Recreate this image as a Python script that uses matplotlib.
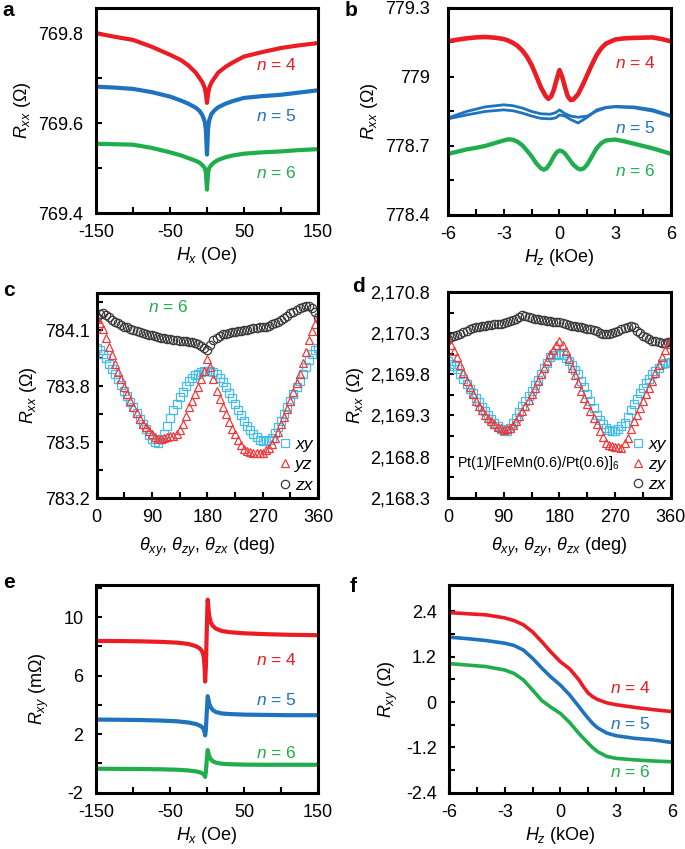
import matplotlib
matplotlib.use("Agg")
import matplotlib.pyplot as plt
from matplotlib.ticker import FixedLocator, FuncFormatter

plt.rcParams['font.family'] = ['Liberation Sans', 'DejaVu Sans']
plt.rcParams['mathtext.fontset'] = 'custom'
plt.rcParams['mathtext.rm'] = 'Liberation Sans'
plt.rcParams['mathtext.it'] = 'Liberation Sans:italic'
plt.rcParams['mathtext.bf'] = 'Liberation Sans:bold'

RED = '#ec1c24'
BLUE = '#1f72be'
GREEN = '#1fae4b'
SQ = '#45bde9'
TRI = '#ee3a3a'
CIR = '#3a3a3a'

# ---------------- panel a ----------------
a_h = [-150, -125, -100, -75, -50, -35, -25, -15, -10, -6, -3, -1.5, 0, 1.5, 3, 6, 10, 15, 25, 35, 50, 75, 100, 125, 150]
a_n4 = [769.800, 769.792, 769.785, 769.770, 769.752, 769.740, 769.728, 769.712, 769.700, 769.690, 769.678, 769.665, 769.645,
        769.665, 769.678, 769.690, 769.700, 769.712, 769.725, 769.735, 769.748, 769.758, 769.767, 769.773, 769.778]
a_n5 = [769.681, 769.679, 769.676, 769.669, 769.659, 769.650, 769.643, 769.634, 769.627, 769.617, 769.603, 769.585, 769.530,
        769.588, 769.606, 769.620, 769.628, 769.635, 769.643, 769.649, 769.656, 769.660, 769.663, 769.668, 769.673]
a_n6 = [769.554, 769.553, 769.552, 769.545, 769.535, 769.528, 769.522, 769.516, 769.512, 769.506, 769.500, 769.490, 769.452,
        769.490, 769.500, 769.507, 769.513, 769.518, 769.524, 769.528, 769.532, 769.535, 769.537, 769.540, 769.542]

# ---------------- panel b ----------------
b_h4 = [-6, -5.5, -5, -4.5, -4, -3.5, -3, -2.75, -2.5, -2.25, -2, -1.75, -1.5, -1.25, -1, -0.75, -0.6, -0.45, -0.3,
        -0.15, 0, 0.15, 0.3, 0.45, 0.6, 0.75, 1, 1.25, 1.5, 1.75, 2, 2.25, 2.5, 3, 3.5, 4, 5, 5.5, 6]
b_n4 = [779.155, 779.162, 779.168, 779.172, 779.174, 779.171, 779.165, 779.158, 779.148, 779.135, 779.115, 779.088,
        779.052, 779.005, 778.955, 778.918, 778.905, 778.915, 778.945, 778.990, 779.030, 779.000, 778.955, 778.915,
        778.900, 778.902, 778.925, 778.965, 779.010, 779.055, 779.095, 779.125, 779.145, 779.163, 779.168, 779.170,
        779.172, 779.165, 779.155]
b_h6 = [-6, -5.5, -5, -4.5, -4, -3.5, -3, -2.75, -2.5, -2.25, -2, -1.75, -1.5, -1.25, -1, -0.85, -0.7, -0.5, -0.3,
        -0.15, 0, 0.15, 0.3, 0.5, 0.75, 1, 1.15, 1.3, 1.5, 1.75, 2, 2.25, 2.5, 3, 3.5, 4, 4.5, 5, 5.5, 6]
b_n6 = [778.666, 778.675, 778.685, 778.692, 778.700, 778.712, 778.724, 778.729, 778.727, 778.718, 778.703, 778.680,
        778.655, 778.625, 778.603, 778.597, 778.602, 778.625, 778.655, 778.673, 778.680, 778.677, 778.667, 778.645,
        778.618, 778.601, 778.598, 778.602, 778.620, 778.655, 778.690, 778.712, 778.724, 778.728, 778.720, 778.710,
        778.700, 778.690, 778.678, 778.666]
b_h5 = [-6, -5, -4, -3, -2.5, -2, -1.5, -1, -0.5, -0.2, 0, 0.3, 0.6, 1, 1.5, 2, 2.5, 3, 4, 5, 6]
b_n5_up = [778.822, 778.850, 778.870, 778.879, 778.875, 778.865, 778.850, 778.840, 778.838, 778.845, 778.857,
           778.840, 778.830, 778.825, 778.830, 778.852, 778.866, 778.870, 778.866, 778.852, 778.828]
b_n5_dn = [778.818, 778.835, 778.850, 778.857, 778.853, 778.843, 778.830, 778.820, 778.818, 778.822, 778.835,
           778.830, 778.815, 778.800, 778.825, 778.857, 778.868, 778.872, 778.870, 778.858, 778.832]

# ---------------- panel c ----------------
theta = list(range(0, 361, 5))
c_xy = [784.006, 783.995, 783.974, 783.950, 783.920, 783.893, 783.866, 783.836, 783.806, 783.776, 783.746, 783.716,
        783.686, 783.656, 783.626, 783.596, 783.568, 783.540, 783.515, 783.503, 783.497, 783.515, 783.542, 783.585,
        783.632, 783.670, 783.705, 783.740, 783.770, 783.800, 783.830, 783.845, 783.858, 783.866, 783.875, 783.880,
        783.884, 783.882, 783.875, 783.866, 783.846, 783.820, 783.794, 783.764, 783.734, 783.704, 783.674, 783.644,
        783.614, 783.588, 783.563, 783.542, 783.525, 783.512, 783.506, 783.506, 783.512, 783.524, 783.550, 783.580,
        783.614, 783.650, 783.686, 783.722, 783.758, 783.794, 783.830, 783.866, 783.902, 783.938, 783.970, 783.995,
        784.006]
c_yz = [784.163, 784.140, 784.109, 784.060, 784.010, 783.965, 783.920, 783.878, 783.836, 783.794, 783.758, 783.722,
        783.686, 783.656, 783.626, 783.596, 783.580, 783.560, 783.542, 783.525, 783.515, 783.515, 783.524, 783.528,
        783.533, 783.535, 783.542, 783.565, 783.596, 783.640, 783.686, 783.720, 783.757, 783.794, 783.840, 783.884,
        783.947, 783.902, 783.840, 783.776, 783.730, 783.690, 783.650, 783.610, 783.572, 783.542, 783.510, 783.485,
        783.461, 783.452, 783.446, 783.443, 783.442, 783.442, 783.443, 783.455, 783.470, 783.488, 783.520, 783.556,
        783.596, 783.637, 783.680, 783.722, 783.770, 783.818, 783.866, 783.925, 783.985, 784.046, 784.095, 784.136,
        784.172]
c_zx = [784.172, 784.185, 784.190, 784.180, 784.170, 784.155, 784.145, 784.140, 784.130, 784.120, 784.115, 784.105,
        784.100, 784.095, 784.090, 784.085, 784.080, 784.075, 784.073, 784.070, 784.065, 784.060, 784.058, 784.055,
        784.055, 784.050, 784.048, 784.045, 784.043, 784.040, 784.037, 784.035, 784.030, 784.025, 784.015, 784.005,
        783.996, 784.020, 784.046, 784.060, 784.070, 784.078, 784.082, 784.088, 784.090, 784.093, 784.095, 784.098,
        784.100, 784.102, 784.105, 784.110, 784.112, 784.115, 784.118, 784.120, 784.125, 784.132, 784.140, 784.147,
        784.154, 784.165, 784.178, 784.190, 784.200, 784.210, 784.217, 784.225, 784.230, 784.231, 784.222, 784.200,
        784.172]

# ---------------- panel d ----------------
d_xy = [2169.964, 2169.930, 2169.900, 2169.862, 2169.800, 2169.740, 2169.680, 2169.625, 2169.570, 2169.515, 2169.460,
        2169.405, 2169.352, 2169.305, 2169.255, 2169.210, 2169.170, 2169.135, 2169.107, 2169.115, 2169.148, 2169.205,
        2169.270, 2169.340, 2169.413, 2169.475, 2169.535, 2169.597, 2169.665, 2169.735, 2169.800, 2169.870, 2169.940,
        2170.005, 2170.030, 2170.040, 2170.046, 2170.030, 2170.000, 2169.964, 2169.910, 2169.855, 2169.800, 2169.720,
        2169.640, 2169.556, 2169.475, 2169.390, 2169.310, 2169.250, 2169.195, 2169.148, 2169.125, 2169.110, 2169.107,
        2169.140, 2169.175, 2169.210, 2169.285, 2169.360, 2169.434, 2169.500, 2169.570, 2169.638, 2169.690, 2169.745,
        2169.800, 2169.840, 2169.880, 2169.923, 2169.935, 2169.940, 2169.944]
d_zy = [2170.229, 2170.150, 2170.080, 2170.005, 2169.910, 2169.815, 2169.720, 2169.640, 2169.555, 2169.475, 2169.420,
        2169.365, 2169.310, 2169.270, 2169.230, 2169.190, 2169.165, 2169.145, 2169.128, 2169.130, 2169.145, 2169.185,
        2169.230, 2169.290, 2169.352, 2169.420, 2169.490, 2169.556, 2169.635, 2169.720, 2169.800, 2169.880, 2169.965,
        2170.046, 2170.100, 2170.160, 2170.209, 2170.150, 2170.087, 2169.985, 2169.882, 2169.785, 2169.690, 2169.597,
        2169.515, 2169.435, 2169.352, 2169.270, 2169.190, 2169.107, 2169.035, 2168.965, 2168.940, 2168.924, 2168.915,
        2168.910, 2168.904, 2168.960, 2169.026, 2169.130, 2169.230, 2169.310, 2169.390, 2169.475, 2169.555, 2169.635,
        2169.720, 2169.815, 2169.910, 2170.005, 2170.090, 2170.168, 2170.229]
d_zx = [2170.229, 2170.250, 2170.270, 2170.280, 2170.290, 2170.310, 2170.330, 2170.345, 2170.360, 2170.370, 2170.375,
        2170.385, 2170.390, 2170.395, 2170.400, 2170.405, 2170.410, 2170.415, 2170.420, 2170.430, 2170.445, 2170.460,
        2170.474, 2170.495, 2170.515, 2170.505, 2170.490, 2170.480, 2170.474, 2170.470, 2170.465, 2170.460, 2170.452,
        2170.445, 2170.440, 2170.437, 2170.433, 2170.425, 2170.410, 2170.400, 2170.390, 2170.385, 2170.375, 2170.370,
        2170.365, 2170.355, 2170.350, 2170.340, 2170.320, 2170.300, 2170.290, 2170.290, 2170.295, 2170.300, 2170.310,
        2170.330, 2170.350, 2170.365, 2170.380, 2170.385, 2170.370, 2170.330, 2170.300, 2170.270, 2170.250, 2170.230,
        2170.210, 2170.200, 2170.190, 2170.185, 2170.185, 2170.190, 2170.190]

# ---------------- panel e ----------------
e_h = [-150, -120, -90, -60, -40, -25, -15, -10, -7, -5, -4, -3, -2.5, -1.5, -0.5, 0.5, 1, 2, 3, 5, 8, 12, 20, 30, 50, 80, 110, 150]
e_n4 = [8.38, 8.37, 8.35, 8.31, 8.26, 8.17, 8.02, 7.88, 7.70, 7.45, 7.15, 6.40, 5.60, 6.60, 8.60, 10.50, 11.20, 10.60,
        10.10, 9.65, 9.40, 9.22, 9.06, 8.98, 8.90, 8.84, 8.80, 8.77]
e_n5 = [3.00, 2.99, 2.97, 2.93, 2.88, 2.80, 2.70, 2.60, 2.50, 2.38, 2.27, 2.10, 1.92, 2.30, 3.30, 4.20, 4.60, 4.35,
        4.10, 3.85, 3.65, 3.52, 3.42, 3.38, 3.34, 3.32, 3.30, 3.30]
e_n6 = [-0.36, -0.37, -0.38, -0.40, -0.43, -0.48, -0.54, -0.60, -0.66, -0.72, -0.78, -0.85, -0.92, -0.60, 0.10, 0.70,
        0.92, 0.70, 0.50, 0.30, 0.15, 0.06, -0.02, -0.05, -0.08, -0.09, -0.09, -0.09]

# ---------------- panel f ----------------
f_h = [-6, -5, -4, -3, -2.5, -2, -1.5, -1, -0.5, 0, 0.5, 1, 1.25, 1.5, 1.75, 2, 2.5, 3, 4, 5, 6]
f_n4 = [2.37, 2.34, 2.31, 2.23, 2.16, 2.05, 1.86, 1.60, 1.32, 1.07, 0.88, 0.59, 0.40, 0.24, 0.14, 0.07, -0.02, -0.07, -0.14, -0.20, -0.25]
f_n5 = [1.72, 1.68, 1.63, 1.56, 1.50, 1.38, 1.16, 0.90, 0.66, 0.45, 0.19, -0.12, -0.28, -0.43, -0.57, -0.68, -0.82, -0.89, -0.96, -1.00, -1.07]
f_n6 = [1.02, 0.98, 0.94, 0.85, 0.76, 0.59, 0.32, 0.04, -0.14, -0.30, -0.54, -0.83, -0.96, -1.09, -1.21, -1.31, -1.44, -1.49, -1.53, -1.56, -1.58]

TICK_FS = 13
LABEL_FS = 13

fig = plt.figure(figsize=(6.85, 8.49), dpi=100)

def make_ax(rect, ypad):
    ax = fig.add_axes(rect)
    for s in ax.spines.values():
        s.set_linewidth(2.2)
    ax.tick_params(which='both', direction='in', top=False, right=False, width=1.5,
                   labelsize=TICK_FS, length=4)
    ax.tick_params(axis='y', which='both', pad=ypad)
    ax.tick_params(axis='x', which='both', pad=8)
    return ax

def n_text(ax, x, y, s, c, ha='center'):
    ax.text(x, y, r'$n$ = ' + s, color=c, fontsize=12.5, ha=ha, va='center')

fmt0 = FuncFormatter(lambda v, p: f'{v:.0f}')
fmt1 = FuncFormatter(lambda v, p: f'{v:.1f}')

# a
ax = make_ax([0.1401, 0.7491, 0.3241, 0.2415], 9)
ax.plot(a_h, a_n4, color=RED, lw=3)
ax.plot(a_h, a_n5, color=BLUE, lw=3)
ax.plot(a_h, a_n6, color=GREEN, lw=3)
ax.set_xlim(-150, 150)
ax.set_ylim(769.4, 769.856)
ax.xaxis.set_major_locator(FixedLocator([-150, -50, 50, 150]))
ax.xaxis.set_minor_locator(FixedLocator([-100, 0, 100]))
ax.yaxis.set_major_locator(FixedLocator([769.4, 769.6, 769.8]))
ax.yaxis.set_minor_locator(FixedLocator([769.5, 769.7]))
ax.yaxis.set_major_formatter(fmt1)
ax.xaxis.set_major_formatter(fmt0)
ax.set_xlabel(r'$H_x$ (Oe)', fontsize=LABEL_FS, labelpad=3)
ax.set_ylabel(r'$R_{xx}$ ($\Omega$)', fontsize=LABEL_FS, labelpad=4)
n_text(ax, 94, 769.73, '4', RED)
n_text(ax, 94, 769.615, '5', BLUE)
n_text(ax, 94, 769.489, '6', GREEN)

# b
ax = make_ax([0.654, 0.7468, 0.3255, 0.2438], 13)
ax.plot(b_h4, b_n4, color=RED, lw=3.3)
ax.plot(b_h5, b_n5_up, color=BLUE, lw=2)
ax.plot(b_h5, b_n5_dn, color=BLUE, lw=2)
ax.plot(b_h6, b_n6, color=GREEN, lw=3.1)
ax.set_xlim(-6, 6)
ax.set_ylim(778.4, 779.3)
ax.xaxis.set_major_locator(FixedLocator([-6, -3, 0, 3, 6]))
ax.xaxis.set_minor_locator(FixedLocator([-4.5, -1.5, 1.5, 4.5]))
ax.yaxis.set_major_locator(FixedLocator([778.4, 778.7, 779.0, 779.3]))
ax.yaxis.set_minor_locator(FixedLocator([778.55, 778.85, 779.15]))
ax.yaxis.set_major_formatter(FuncFormatter(lambda v, p: f'{v:.0f}' if abs(v - round(v)) < 1e-6 else f'{v:.1f}'))
ax.xaxis.set_major_formatter(fmt0)
ax.set_xlabel(r'$H_z$ (kOe)', fontsize=LABEL_FS, labelpad=3)
ax.set_ylabel(r'$R_{xx}$ ($\Omega$)', fontsize=LABEL_FS, labelpad=4)
n_text(ax, 4.1, 779.06, '4', RED)
n_text(ax, 4.1, 778.777, '5', BLUE)
n_text(ax, 4.1, 778.589, '6', GREEN)

def legend_marks(ax, labels):
    h1, = ax.plot([], [], 's', mfc='none', mec=SQ, ms=6, mew=0.9)
    h2, = ax.plot([], [], '^', mfc='none', mec=TRI, ms=6, mew=0.9)
    h3, = ax.plot([], [], 'o', mfc='none', mec=CIR, ms=6, mew=0.9)
    ax.legend([h1, h2, h3], labels, loc='lower right', frameon=False,
              prop={'style': 'italic', 'size': 12.5}, handlelength=0.6, handletextpad=0.3,
              labelspacing=0.3, borderaxespad=0.1, borderpad=0.2)

# c
ax = make_ax([0.1409, 0.4134, 0.3234, 0.2415], 5)
ax.plot(theta, c_zx, 'o', mfc='none', mec=CIR, ms=6, mew=0.9)
ax.plot(theta, c_xy, 's', mfc='none', mec=SQ, ms=6, mew=0.9)
ax.plot(theta, c_yz, '^', mfc='none', mec=TRI, ms=6, mew=0.9)
ax.set_xlim(0, 360)
ax.set_ylim(783.2, 784.3)
ax.xaxis.set_major_locator(FixedLocator([0, 90, 180, 270, 360]))
ax.xaxis.set_minor_locator(FixedLocator([45, 135, 225, 315]))
ax.yaxis.set_major_locator(FixedLocator([783.2, 783.5, 783.8, 784.1]))
ax.yaxis.set_minor_locator(FixedLocator([783.35, 783.65, 783.95, 784.25]))
ax.yaxis.set_major_formatter(fmt1)
ax.set_xlabel(r'$\theta_{xy}$, $\theta_{zy}$, $\theta_{zx}$ (deg)', fontsize=LABEL_FS, labelpad=7)
ax.set_ylabel(r'$R_{xx}$ ($\Omega$)', fontsize=LABEL_FS, labelpad=4)
n_text(ax, 116, 784.226, '6', GREEN)
legend_marks(ax, ['xy', 'yz', 'zx'])

# d
ax = make_ax([0.654, 0.4138, 0.3255, 0.2423], 13)
ax.plot(theta, d_zx, 'o', mfc='none', mec=CIR, ms=6, mew=0.9)
ax.plot(theta, d_xy, 's', mfc='none', mec=SQ, ms=6, mew=0.9)
ax.plot(theta, d_zy, '^', mfc='none', mec=TRI, ms=6, mew=0.9)
ax.set_xlim(0, 360)
ax.set_ylim(2168.3, 2170.8)
ax.xaxis.set_major_locator(FixedLocator([0, 90, 180, 270, 360]))
ax.xaxis.set_minor_locator(FixedLocator([45, 135, 225, 315]))
ax.yaxis.set_major_locator(FixedLocator([2168.3, 2168.8, 2169.3, 2169.8, 2170.3, 2170.8]))
ax.yaxis.set_minor_locator(FixedLocator([2168.55, 2169.05, 2169.55, 2170.05, 2170.55]))
ax.yaxis.set_major_formatter(FuncFormatter(lambda v, p: f'{v:,.1f}'))
ax.set_xlabel(r'$\theta_{xy}$, $\theta_{zy}$, $\theta_{zx}$ (deg)', fontsize=LABEL_FS, labelpad=7)
ax.set_ylabel(r'$R_{xx}$ ($\Omega$)', fontsize=LABEL_FS, labelpad=3)
ax.text(0.04, 0.17, r'Pt(1)/[FeMn(0.6)/Pt(0.6)]$_{6}$', transform=ax.transAxes, fontsize=10.3,
        ha='left', va='center')
legend_marks(ax, ['xy', 'zy', 'zx'])

# e
ax = make_ax([0.1401, 0.0663, 0.3241, 0.2446], 9)
ax.plot(e_h, e_n4, color=RED, lw=3)
ax.plot(e_h, e_n5, color=BLUE, lw=3)
ax.plot(e_h, e_n6, color=GREEN, lw=3)
ax.set_xlim(-150, 150)
ax.set_ylim(-2, 12.2)
ax.xaxis.set_major_locator(FixedLocator([-150, -50, 50, 150]))
ax.xaxis.set_minor_locator(FixedLocator([-100, 0, 100]))
ax.yaxis.set_major_locator(FixedLocator([-2, 2, 6, 10]))
ax.yaxis.set_minor_locator(FixedLocator([0, 4, 8, 12]))
ax.xaxis.set_major_formatter(fmt0)
ax.yaxis.set_major_formatter(fmt0)
ax.set_xlabel(r'$H_x$ (Oe)', fontsize=LABEL_FS, labelpad=3)
ax.set_ylabel(r'$R_{xy}$ (m$\Omega$)', fontsize=LABEL_FS, labelpad=9)
n_text(ax, 94, 7.09, '4', RED)
n_text(ax, 94, 4.32, '5', BLUE)
n_text(ax, 94, 0.73, '6', GREEN)

# f
ax = make_ax([0.6555, 0.0663, 0.3251, 0.2446], 9)
ax.plot(f_h, f_n4, color=RED, lw=2.6)
ax.plot(f_h, f_n5, color=BLUE, lw=2.6)
ax.plot(f_h, f_n6, color=GREEN, lw=2.6)
ax.set_xlim(-6, 6)
ax.set_ylim(-2.4, 3.1)
ax.xaxis.set_major_locator(FixedLocator([-6, -3, 0, 3, 6]))
ax.xaxis.set_minor_locator(FixedLocator([-4.5, -1.5, 1.5, 4.5]))
ax.yaxis.set_major_locator(FixedLocator([-2.4, -1.2, 0, 1.2, 2.4]))
ax.yaxis.set_minor_locator(FixedLocator([-1.8, -0.6, 0.6, 1.8]))
ax.xaxis.set_major_formatter(fmt0)
ax.yaxis.set_major_formatter(FuncFormatter(lambda v, p: '0' if abs(v) < 1e-9 else f'{v:.1f}'))
ax.set_xlabel(r'$H_z$ (kOe)', fontsize=LABEL_FS, labelpad=3)
ax.set_ylabel(r'$R_{xy}$ ($\Omega$)', fontsize=LABEL_FS, labelpad=4)
n_text(ax, 3.75, 0.37, '4', RED)
n_text(ax, 3.75, -0.58, '5', BLUE)
n_text(ax, 3.75, -1.84, '6', GREEN)

# panel letters
for lab, (px, py) in {'a': (2, 10), 'b': (345, 10), 'c': (3, 290), 'd': (352, 287),
                      'e': (3, 582), 'f': (350, 587)}.items():
    fig.text(px / 685, 1 - py / 849, lab, fontsize=15, fontweight='bold', ha='left', va='center')

fig.savefig('out.png', dpi=100)
